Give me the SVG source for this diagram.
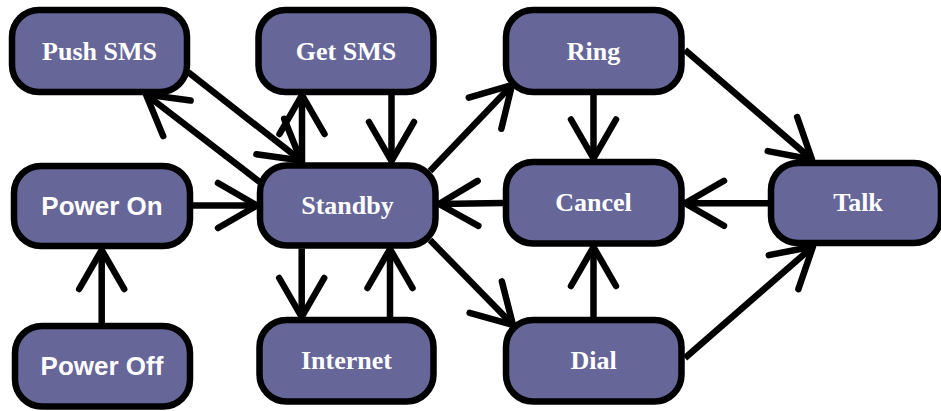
<svg xmlns="http://www.w3.org/2000/svg" width="941" height="411" viewBox="0 0 941 411">
<style>
.node rect{fill:#666699;stroke:#000;stroke-width:6.5}
.serif{font-family:"Liberation Serif","Times New Roman",serif;font-weight:bold;font-size:26px;fill:#fff;text-anchor:middle}
.sans{font-family:"Liberation Sans",Arial,sans-serif;font-weight:bold;font-size:26px;fill:#fff;text-anchor:middle}
#connectors path{fill:none;stroke:#000;stroke-width:6.5;marker-end:url(#ah)}
</style>
<defs>
<marker id="ah" markerUnits="userSpaceOnUse" orient="auto" overflow="visible" refX="0" refY="0" markerWidth="1" markerHeight="1">
<path d="M-39,-22.5 L0,0 L-39,22.5" fill="none" stroke="#000" stroke-width="6.5" stroke-linecap="round" stroke-linejoin="round"/>
</marker>
</defs>
<g id="push-sms" class="node"><rect x="12" y="10" width="175" height="82" rx="27"/><text class="serif" x="99.5" y="59.5">Push SMS</text></g>
<g id="get-sms" class="node"><rect x="258.5" y="10" width="175" height="82" rx="27"/><text class="serif" x="346" y="59.5">Get SMS</text></g>
<g id="ring" class="node"><rect x="506" y="10" width="175.5" height="82" rx="27"/><text class="serif" x="593.5" y="59.5">Ring</text></g>
<g id="power-on" class="node"><rect x="14" y="166" width="176" height="80" rx="27"/><text class="sans" x="102" y="214.5">Power On</text></g>
<g id="standby" class="node"><rect x="260" y="165.5" width="175.5" height="80" rx="27"/><text class="serif" x="347.5" y="214">Standby</text></g>
<g id="cancel" class="node"><rect x="506" y="162" width="175.5" height="81.5" rx="27"/><text class="serif" x="593.5" y="210.5">Cancel</text></g>
<g id="talk" class="node"><rect x="771" y="163" width="170" height="80" rx="27"/><text class="serif" x="858" y="210.5">Talk</text></g>
<g id="power-off" class="node"><rect x="15" y="326" width="175" height="80.5" rx="27"/><text class="sans" x="102" y="375">Power Off</text></g>
<g id="internet" class="node"><rect x="259.5" y="320" width="174" height="81.5" rx="27"/><text class="serif" x="346.5" y="368.5">Internet</text></g>
<g id="dial" class="node"><rect x="506" y="320" width="175.5" height="81.5" rx="27"/><text class="serif" x="593.5" y="368.5">Dial</text></g>
<g id="connectors">
<path d="M188,72 L301,160.5"/>
<path d="M261,183 L146,94.5"/>
<path d="M302,163 L302,95"/>
<path d="M391.5,94 L391.5,161"/>
<path d="M430,171 L512,85"/>
<path d="M593.5,94 L593.5,158.5"/>
<path d="M685,50 L812,159.5"/>
<path d="M768,203.3 L685,203.3"/>
<path d="M503,203 L439,204"/>
<path d="M193,205.5 L257,205.5"/>
<path d="M101.7,323 L101.7,250"/>
<path d="M301.7,248.5 L301.7,317"/>
<path d="M390,317 L390,249"/>
<path d="M430,240 L513,325"/>
<path d="M593.5,317 L593.5,247"/>
<path d="M685,358 L813,246.5"/>
</g>
</svg>
